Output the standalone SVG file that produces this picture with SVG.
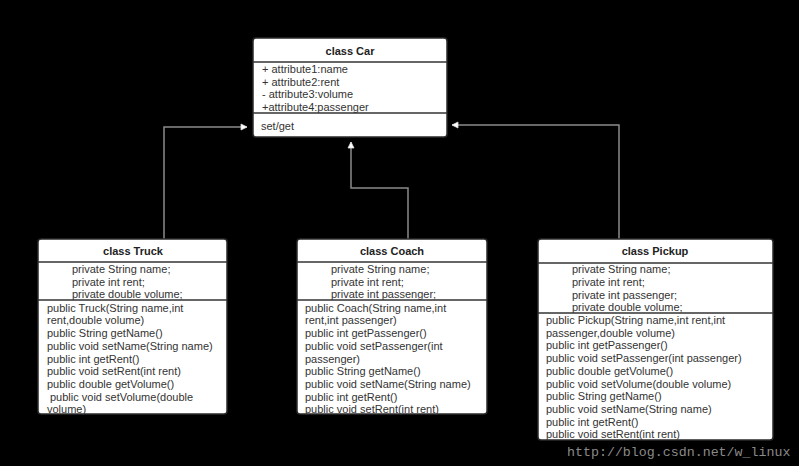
<svg xmlns="http://www.w3.org/2000/svg" width="799" height="466" viewBox="0 0 799 466">
<style>
.box{fill:#fff;stroke:#2a2a2a;stroke-width:1.5}
.div{stroke:#333;stroke-width:1.5}
.t{font-family:"Liberation Sans",Arial,sans-serif;font-size:11px;fill:#333}
.h{font-family:"Liberation Sans",Arial,sans-serif;font-size:11px;font-weight:bold;fill:#222;text-anchor:middle}
.c{fill:none;stroke:#8a8a8a;stroke-width:1.5}
.wm{font-family:"Liberation Mono","Courier New",monospace;font-size:13.3px;fill:#8a8a8a}
</style>
<defs>
<marker id="tri" markerWidth="8" markerHeight="8" refX="7" refY="4" orient="auto" markerUnits="userSpaceOnUse">
<path d="M1,1 L7,4 L1,7 Z" fill="#fff" stroke="#ddd" stroke-width="0.8"/>
</marker>
</defs>
<rect width="799" height="466" fill="#000"/>
<g id="connectors">
<polyline class="c" points="164,239 164,127 247,127" marker-end="url(#tri)"/>
<polyline class="c" points="408,239 408,188 351,188 351,142" marker-end="url(#tri)"/>
<polyline class="c" points="619,239 619,125 452,125" marker-end="url(#tri)"/>
</g>
<g id="car">
<rect class="box" x="253" y="38" width="194" height="99" rx="3"/>
<line class="div" x1="253" y1="62" x2="447" y2="62"/>
<line class="div" x1="253" y1="113" x2="447" y2="113"/>
<text class="h" x="350" y="55">class Car</text>
<text class="t" x="262" y="73">+ attribute1:name</text>
<text class="t" x="262" y="85.5">+ attribute2:rent</text>
<text class="t" x="262" y="98">- attribute3:volume</text>
<text class="t" x="262" y="110.5">+attribute4:passenger</text>
<text class="t" x="261" y="130">set/get</text>
</g>
<g id="truck">
<rect class="box" x="38" y="239" width="189" height="175" rx="3"/>
<line class="div" x1="38" y1="262" x2="227" y2="262"/>
<line class="div" x1="38" y1="300" x2="227" y2="300"/>
<text class="h" x="133" y="254.7">class Truck</text>
<text class="t" x="72" y="273">private String name;</text>
<text class="t" x="72" y="285.7">private int rent;</text>
<text class="t" x="72" y="298.4">private double volume;</text>
<text class="t" x="47" y="311.7">public Truck(String name,int</text>
<text class="t" x="47" y="324.4">rent,double volume)</text>
<text class="t" x="47" y="337.1">public String getName()</text>
<text class="t" x="47" y="349.8">public void setName(String name)</text>
<text class="t" x="47" y="362.5">public int getRent()</text>
<text class="t" x="47" y="375.2">public void setRent(int rent)</text>
<text class="t" x="47" y="387.9">public double getVolume()</text>
<text class="t" x="50" y="400.6">public void setVolume(double</text>
<text class="t" x="47" y="413.3">volume)</text>
</g>
<g id="coach">
<rect class="box" x="297" y="239" width="190" height="175" rx="3"/>
<line class="div" x1="297" y1="262" x2="487" y2="262"/>
<line class="div" x1="297" y1="300" x2="487" y2="300"/>
<text class="h" x="392" y="254.7">class Coach</text>
<text class="t" x="331" y="273">private String name;</text>
<text class="t" x="331" y="285.7">private int rent;</text>
<text class="t" x="331" y="298.4">private int passenger;</text>
<text class="t" x="305" y="311.7">public Coach(String name,int</text>
<text class="t" x="305" y="324.4">rent,int passenger)</text>
<text class="t" x="305" y="337.1">public int getPassenger()</text>
<text class="t" x="305" y="349.8">public void setPassenger(int</text>
<text class="t" x="305" y="362.5">passenger)</text>
<text class="t" x="305" y="375.2">public String getName()</text>
<text class="t" x="305" y="387.9">public void setName(String name)</text>
<text class="t" x="305" y="400.6">public int getRent()</text>
<text class="t" x="305" y="413.3">public void setRent(int rent)</text>
</g>
<g id="pickup">
<rect class="box" x="538" y="239" width="235" height="201" rx="3"/>
<line class="div" x1="538" y1="263" x2="773" y2="263"/>
<line class="div" x1="538" y1="313" x2="773" y2="313"/>
<text class="h" x="655" y="254.7">class Pickup</text>
<text class="t" x="572" y="273.3">private String name;</text>
<text class="t" x="572" y="286">private int rent;</text>
<text class="t" x="572" y="298.7">private int passenger;</text>
<text class="t" x="572" y="311.4">private double volume;</text>
<text class="t" x="546" y="324">public Pickup(String name,int rent,int</text>
<text class="t" x="546" y="336.7">passenger,double volume)</text>
<text class="t" x="546" y="349.4">public int getPassenger()</text>
<text class="t" x="546" y="362.1">public void setPassenger(int passenger)</text>
<text class="t" x="546" y="374.8">public double getVolume()</text>
<text class="t" x="546" y="387.5">public void setVolume(double volume)</text>
<text class="t" x="546" y="400.2">public String getName()</text>
<text class="t" x="546" y="412.9">public void setName(String name)</text>
<text class="t" x="546" y="425.6">public int getRent()</text>
<text class="t" x="546" y="438.3">public void setRent(int rent)</text>
</g>
<text class="wm" x="567" y="456">http://blog.csdn.net/w_linux</text>
</svg>
